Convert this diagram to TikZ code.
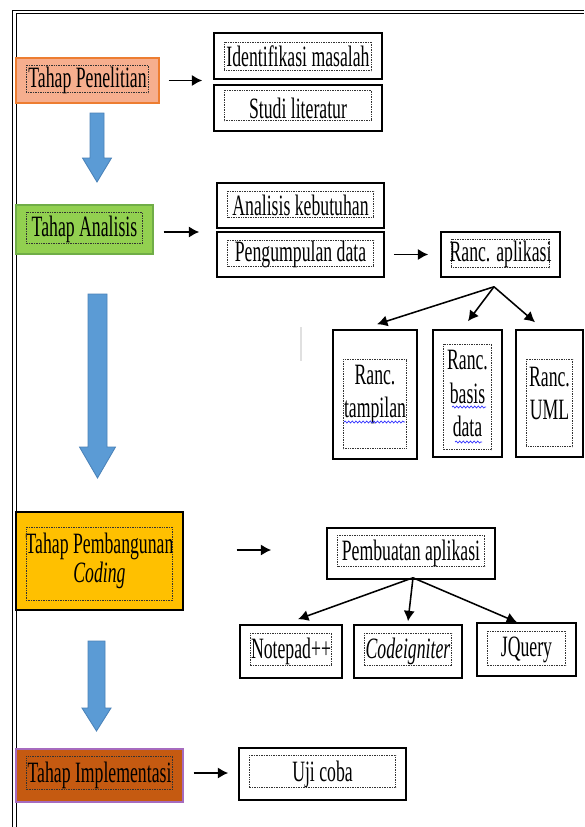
\documentclass[tikz,border=0pt]{standalone}
\usepackage{fontspec}
\setmainfont{Liberation Serif}[FakeStretch=0.6]
\usetikzlibrary{arrows.meta,calc,decorations.pathmorphing}
\definecolor{arrowblue}{HTML}{5B9BD5}
\definecolor{arrowedge}{HTML}{4A82B8}
\definecolor{penfill}{HTML}{F6AE8E}
\definecolor{penedge}{HTML}{ED7D31}
\definecolor{anafill}{HTML}{92D050}
\definecolor{anaedge}{HTML}{70AD47}
\definecolor{pembfill}{HTML}{FFC000}
\definecolor{implfill}{HTML}{C55A11}
\definecolor{impledge}{HTML}{A66BBE}
\tikzset{
  stage/.style={draw, line width=0.8pt, inner sep=0pt, align=center,
    font=\fontsize{21}{21}\selectfont},
  itembox/.style={draw, line width=1.1pt, inner sep=0pt, fill=white, align=center,
    font=\fontsize{21}{24}\selectfont},
  tbox/.style={draw=black!80, line width=0.7pt, dash pattern=on 0.6pt off 0.6pt},
  flow/.style={-{Latex[length=2.6mm,width=2.8mm]}, line width=1.1pt},
  bluearrow/.style={fill=arrowblue, draw=arrowedge, line width=0.6pt},
  spell/.style={draw=blue!80, line width=0.5pt, decorate,
    decoration={snake, amplitude=0.25mm, segment length=0.9mm}}
}
% block arrow: (x centre, top, head start, tip, half shaft, half head)
\def\blockarrow(#1,#2,#3,#4,#5,#6){\draw[bluearrow] (#1-#5,#2) -- (#1+#5,#2) -- (#1+#5,#3) -- (#1+#6,#3) -- (#1,#4) -- (#1-#6,#3) -- (#1-#5,#3) -- cycle;}

\begin{document}
\begin{tikzpicture}[x=0.25mm, y=-0.25mm]
  \fill[white] (0,0) rectangle (584,827);
  \useasboundingbox (0,0) rectangle (584,827);

  %%%%% frame %%%%%
  \draw[double, double distance=1.5pt, line width=0.7pt] (14.5,827) -- (14.5,12) -- (584,12);

  %%%%% stages %%%%%
  \node[stage, fill=penfill, draw=penedge, minimum width=35.75mm, minimum height=11.25mm]
    (pen) at (87.5,80.5) {Tahap Penelitian};
  \node[stage, fill=anafill, draw=anaedge, minimum width=34.25mm, minimum height=12.25mm]
    (ana) at (84.5,229.5) {Tahap Analisis};
  \node[stage, fill=pembfill, minimum width=41.75mm, minimum height=24.5mm]
    (pemb) at (99.5,561) {Tahap Pembangunan\\\textit{Coding}};
  \node[stage, fill=implfill, draw=impledge, minimum width=41.75mm, minimum height=13.25mm]
    (impl) at (99.5,775.5) {Tahap Implementasi};

  \blockarrow(97,113,158,182,7,14.5)
  \blockarrow(97.5,294,447,478,9.5,18)
  \blockarrow(96.5,641,708,731,8.5,14.5)

  %%%%% steps %%%%%
  \node[itembox, minimum width=42mm, minimum height=11.5mm] (idm) at (298,56) {Identifikasi masalah};
  \node[itembox, minimum width=42mm, minimum height=11.5mm] (stl) at (298,108) {Studi literatur};

  \node[itembox, minimum width=41.75mm, minimum height=11.25mm] (keb) at (300.5,205.5) {Analisis kebutuhan};
  \node[itembox, minimum width=41.75mm, minimum height=11.25mm] (pgd) at (300.5,254.5) {Pengumpulan data};
  \node[itembox, minimum width=29.75mm, minimum height=11.25mm] (apl) at (500.5,254.5) {Ranc. aplikasi};

  \node[itembox, minimum width=21mm, minimum height=32.25mm] (tpl) at (375,394.5) {Ranc.\\tampilan};
  \node[itembox, minimum width=17.25mm, minimum height=31.75mm] (bsd) at (467.5,393.5) {Ranc.\\basis\\data};
  \node[itembox, minimum width=16.75mm, minimum height=31.75mm] (uml) at (549.5,393.5) {Ranc.\\UML};

  \node[itembox, minimum width=42mm, minimum height=12.75mm] (pba) at (411,553.5) {Pembuatan aplikasi};
  \node[itembox, minimum width=25.5mm, minimum height=13.25mm] (npd) at (291,651.5) {Notepad++};
  \node[itembox, minimum width=27mm, minimum height=13.25mm] (cdi) at (408,651.5) {\textit{Codeigniter}};
  \node[itembox, minimum width=24.75mm, minimum height=13.25mm] (jqr) at (526.5,649.5) {JQuery};

  \node[itembox, minimum width=41.75mm, minimum height=13mm] (uji) at (322.5,774) {Uji coba};

  % dotted text frames
  \foreach \n/\t/\b in {pen/8/11, ana/8/11, pemb/16/10, impl/8/13, idm/10/9, stl/6/11,
      keb/9/11, pgd/9/11, apl/8/10, tpl/30/11, bsd/15/8, uml/30/11,
      pba/8/13, npd/9/13, cdi/9/13, jqr/9/11, uji/8/13}
    \draw[tbox] ($(\n.north west)+(11,\t)$) rectangle ($(\n.south east)+(-11,-\b)$);

  \draw[spell] (344,422) -- (405,422);
  \draw[spell] (452,407) -- (486,407);
  \draw[spell] (455,442) -- (482,442);
  \draw[black!12, line width=0.8pt] (301,327) -- (301,361);

  %%%%% connectors %%%%%
  \draw[flow] ($(pen.east)+(9,0)$) -- ($(pen.east -| idm.west)+(-11,0)$);
  \draw[flow] ($(ana.east)+(10,2.5)$) -- ($(ana.east -| keb.west)+(-17,2.5)$);
  \draw[flow] ($(pgd.east)+(9,0)$) -- ($(apl.west)+(-12,0)$);
  \draw[flow] ($(pemb.east)+(53,-11)$) -- ($(pba.west)+(-55,-3.5)$);
  \draw[flow] ($(impl.east)+(10,-2.5)$) -- ($(uji.west)+(-10,-1)$);

  \coordinate (aplfork) at ($(apl.south)+(-6.5,9)$);
  \draw[flow] (aplfork) -- ($(tpl.north)+(2,-5)$);
  \draw[flow] (aplfork) -- ($(bsd.north)+(0.5,-8)$);
  \draw[flow] (aplfork) -- ($(uml.north)+(-14.5,-7)$);

  \draw[flow] ($(pba.south)+(2,-2)$) -- ($(npd.north)+(7,-5)$);
  \draw[flow] ($(pba.south)+(2,-2)$) -- ($(cdi.north)+(0,-3)$);
  \draw[flow] ($(pba.south)+(2,-2)$) -- ($(jqr.north)+(-9.5,0)$);
\end{tikzpicture}
\end{document}
